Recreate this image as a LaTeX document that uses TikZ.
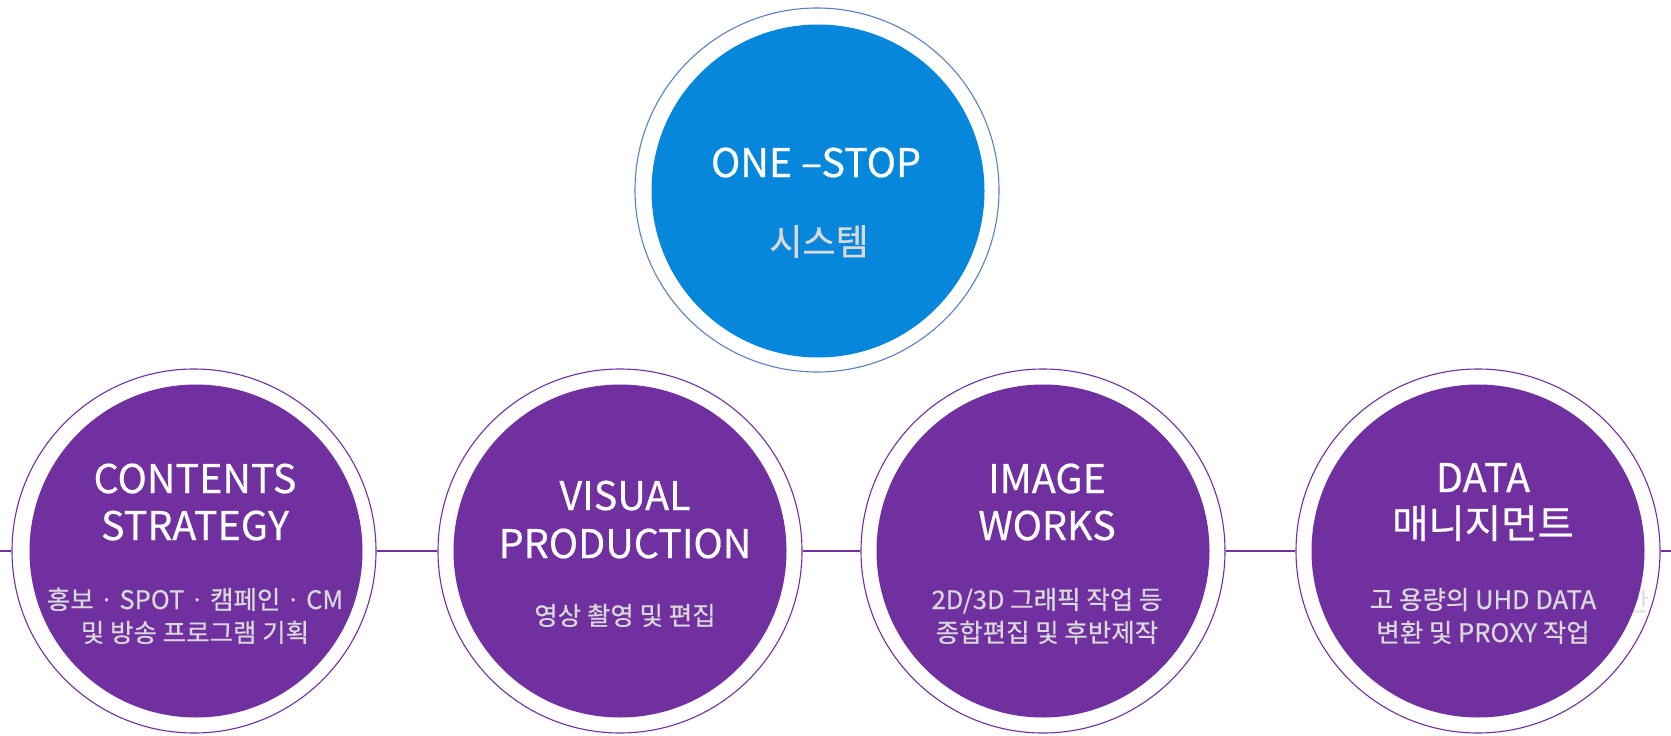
\documentclass[tikz,border=0pt]{standalone}
\usepackage{fontspec}
\setmainfont{Noto Sans CJK KR}[FakeBold=0.5]
\definecolor{ppl}{HTML}{7030A0}
\definecolor{blu}{HTML}{0787DB}
\definecolor{blring}{HTML}{5B80C4}
\definecolor{subc}{HTML}{D9D9D9}
\begin{document}
\begin{tikzpicture}[x=1pt,y=-1pt,
  ringp/.style={circle, draw=ppl, line width=1.1pt, fill=white, minimum size=364pt, inner sep=0pt},
  ringb/.style={circle, draw=blring, line width=1.1pt, fill=white, minimum size=364pt, inner sep=0pt},
  discp/.style={circle, fill=ppl, minimum size=333pt, inner sep=0pt},
  discb/.style={circle, fill=blu, minimum size=333pt, inner sep=0pt},
  ttl/.style={text=white, font=\fontsize{39.5}{42}\selectfont, anchor=base, inner sep=0pt},
  subt/.style={text=subc, font=\fontsize{25.5}{28}\selectfont, anchor=base, inner sep=0pt},
  link/.style={draw=ppl, line width=1.2pt}]
\useasboundingbox (0,0) rectangle (1671,736);
\fill[white] (0,0) rectangle (1671,736);
% circles
\node[ringp] (r1) at (194,551) {};
\node[discp] (d1) at (196,551) {};
\node[ringp] (r2) at (620,551) {};
\node[discp] (d2) at (620,551) {};
\node[ringp] (r3) at (1043,551) {};
\node[discp] (d3) at (1043,551) {};
\node[ringp] (r4) at (1478,551) {};
% faint glyph partly hidden behind the last disc
\node[text=black!12, font=\fontsize{25.5}{28}\selectfont, anchor=base east, inner sep=0pt] (ghost) at (1649,611) {안};
\node[discp] (d4) at (1478,551) {};
\node[ringb] (r0) at (817,190) {};
\node[discb] (d0) at (818,191) {};
% connectors
\coordinate (L) at (0,551);
\coordinate (R) at (1671,551);
\draw[link] (L) -- (r1.west);
\draw[link] (r1.east) -- (r2.west);
\draw[link] (r2.east) -- (r3.west);
\draw[link] (r3.east) -- (r4.west);
\draw[link] (r4.east) -- (R);
% top texts
\node[ttl] (t0a) at (816,177) {ONE –STOP};
\node[text=subc, font=\fontsize{36}{40}\selectfont, anchor=base, inner sep=0pt] (t0b) at (819,255) {시스템};
% circle 1
\node[ttl] (t1a) at (195,493) {CONTENTS};
\node[ttl] (t1b) at (195,540) {STRATEGY};
\node[subt] (s1a) at (195,609) {홍보 · SPOT · 캠페인 · CM};
\node[subt] (s1b) at (195,642) {및 방송 프로그램 기획};
% circle 2
\node[ttl] (t2a) at (625,510) {VISUAL};
\node[ttl] (t2b) at (625,558) {PRODUCTION};
\node[subt] (s2a) at (625,625) {영상 촬영 및 편집};
% circle 3
\node[ttl] (t3a) at (1047,493) {IMAGE};
\node[ttl] (t3b) at (1047,540) {WORKS};
\node[subt] (s3a) at (1047,609) {2D/3D 그래픽 작업 등};
\node[subt] (s3b) at (1047,642) {종합편집 및 후반제작};
% circle 4
\node[ttl] (t4a) at (1483,492) {DATA};
\node[ttl] (t4b) at (1483,538) {매니지먼트};
\node[subt] (s4a) at (1483,609) {고 용량의 UHD DATA};
\node[subt] (s4b) at (1483,642) {변환 및 PROXY 작업};
\end{tikzpicture}
\end{document}
